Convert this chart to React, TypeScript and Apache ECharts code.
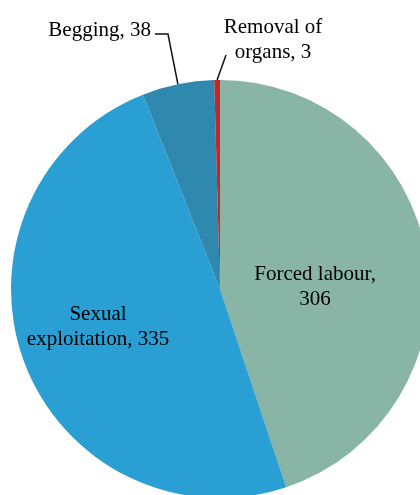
import React, { useEffect, useRef } from "react";
import * as echarts from "echarts";

const categories = ["Forced labour", "Sexual\nexploitation", "Begging", "Removal of\norgans"];
const values = [306, 335, 38, 3];
const colors = ["#89B5A7", "#2A9FD4", "#2F88AD", "#C0282A"];
const insideLabel = [true, true, false, false];

export default function App() {
  const ref = useRef<HTMLDivElement>(null);
  useEffect(() => {
    if (!ref.current) return;
    const chart = echarts.init(ref.current, null, { renderer: "svg" });
    const textStyle = {
      fontFamily: "Liberation Serif",
      fontSize: 21,
      lineHeight: 25,
      color: "#000",
    };
    const data = categories.map((name, i) => ({
      name,
      value: values[i],
      itemStyle: { color: colors[i] },
      label: {
        show: true,
        position: insideLabel[i] ? "inside" : "outside",
        formatter: i === 0 ? "{b},\n{c}" : "{b}, {c}",
        ...textStyle,
        align: "center",
      },
      labelLine: { show: !insideLabel[i] },
    }));
    chart.setOption({
      animation: false,
      series: [
        {
          type: "pie",
          center: [220, 289],
          radius: 209,
          startAngle: 90,
          clockwise: true,
          avoidLabelOverlap: false,
          silent: true,
          data,
          labelLine: {
            length: 20,
            length2: 10,
            lineStyle: { color: "#111", width: 1.5 },
          },
          labelLayout: (p: any) => {
            const pts = p.labelLinePoints;
            const start = pts && pts[0] ? pts[0] : [0, 0];
            if (p.dataIndex === 0) return { dx: -11, dy: 14 };
            if (p.dataIndex === 1) return { dx: -21, dy: 0 };
            if (p.dataIndex === 2)
              return {
                x: 151,
                y: 29,
                align: "right",
                verticalAlign: "middle",
                labelLinePoints: [start, [168, 34], [155, 34]],
              };
            return {
              x: 273,
              y: 38,
              align: "center",
              verticalAlign: "middle",
              labelLinePoints: [start, [226, 55], [226, 55]],
            };
          },
        },
      ],
    });
    return () => chart.dispose();
  }, []);
  return (
    <div
      ref={ref}
      style={{ position: "fixed", left: 0, top: 0, width: 420, height: 495 }}
    />
  );
}
